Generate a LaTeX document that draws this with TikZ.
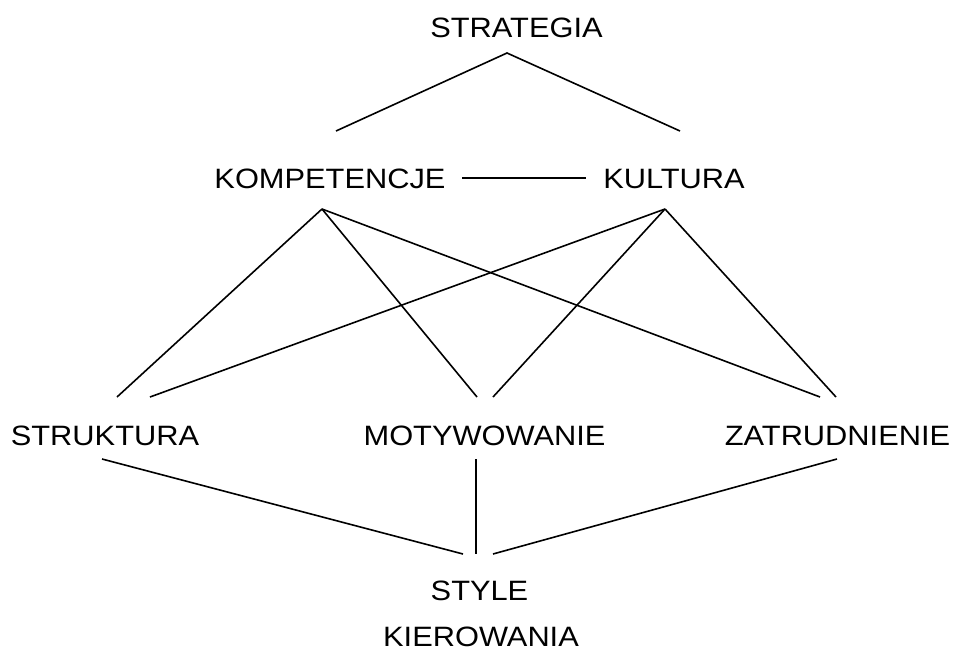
\documentclass[tikz,border=0pt]{standalone}
\usepackage{fontspec}
\setmainfont{Liberation Sans}[FakeStretch=1.1]
\begin{document}
\begin{tikzpicture}[x=1pt,y=-1pt,
  lbl/.style={inner sep=0pt,anchor=base,font=\fontsize{28}{34}\selectfont},
  conn/.style={line width=1.6pt,line cap=butt}]
\useasboundingbox (0,0) rectangle (956,649);
% texts
\node[lbl] (strat) at (516.5,37) {STRATEGIA};
\node[lbl] (komp) at (330,188) {KOMPETENCJE};
\node[lbl] (kult) at (674,188) {KULTURA};
\node[lbl] (strk) at (105,445) {STRUKTURA};
\node[lbl] (moty) at (484.5,445) {MOTYWOWANIE};
\node[lbl] (zatr) at (837.5,445) {ZATRUDNIENIE};
\node[lbl] (style) at (479.5,600.5) {STYLE};
\node[lbl] (kier) at (481,646.5) {KIEROWANIA};
% connector end points
\coordinate (sA) at (507,53);
\coordinate (sL) at (336,131);
\coordinate (sR) at (680,131);
\coordinate (kkL) at (462,178);
\coordinate (kkR) at (586,178);
\coordinate (kA) at (322,209);
\coordinate (cA) at (665,209);
\coordinate (kS) at (117,397);
\coordinate (kM) at (477,397);
\coordinate (kZ) at (820,397);
\coordinate (cS) at (150,397);
\coordinate (cM) at (493,397);
\coordinate (cZ) at (836,397);
\coordinate (bS) at (102,459);
\coordinate (bM) at (476,459);
\coordinate (bZ) at (837,459);
\coordinate (eS) at (463,554);
\coordinate (eM) at (476,554);
\coordinate (eZ) at (493,554);
% connectors
\draw[conn] (sL) -- (sA) -- (sR);
\draw[conn] (kkL) -- (kkR);
\draw[conn] (kA) -- (kS);
\draw[conn] (kA) -- (kM);
\draw[conn] (kA) -- (kZ);
\draw[conn] (cA) -- (cS);
\draw[conn] (cA) -- (cM);
\draw[conn] (cA) -- (cZ);
\draw[conn] (bS) -- (eS);
\draw[conn] (bM) -- (eM);
\draw[conn] (bZ) -- (eZ);
\end{tikzpicture}
\end{document}
